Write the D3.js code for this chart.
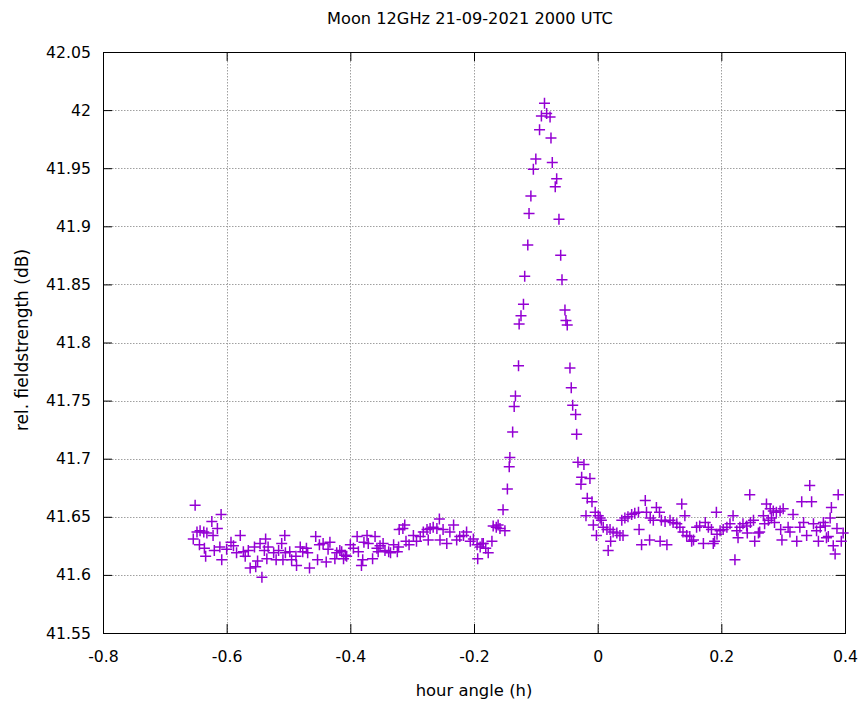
<!doctype html>
<html lang="en">
<head>
  <meta charset="utf-8">
  <title>Moon 12GHz 21-09-2021 2000 UTC</title>
  <style type="text/css">
    body{
      margin:0;
      background:#fff;
    }
    text{
      font-family: "DejaVu Sans", Verdana, sans-serif;
      font-size:16.2px;
      fill:#000;
    }
    .grid line{
      stroke:#a0a0a0;
      stroke-width:1;
      stroke-dasharray:1.5,1.5;
    }
    .axis path{
      display:none;
    }
    .axis line{
      stroke:#000;
    }
    .frame{
      fill:none;
      stroke:#000;
      stroke-width:1;
    }
    .pts path{
      fill:none;
      stroke:#9400d3;
      stroke-width:1.5;
    }
  </style>
</head>
<body>
  <div id="vis"></div>
  <script src="https://cdn.jsdelivr.net/npm/d3@7"></script>
  <script type="text/javascript">

    var width = 861,
      height = 702;

    var margin = {top:52, right:16, bottom:69, left:103};

    var title = 'Moon 12GHz 21-09-2021 2000 UTC',
      xLabel = 'hour angle (h)',
      yLabel = 'rel. fieldstrength (dB)';

    var xTicks = [-0.8,-0.6,-0.4,-0.2,0,0.2,0.4],
      yTicks = [41.55,41.6,41.65,41.7,41.75,41.8,41.85,41.9,41.95,42,42.05];

    // hour angle (h) of each sample
    var hourAngle = [
      -0.654,-0.651,-0.648,-0.644,-0.643,-0.637,-0.636,-0.634,-0.632,-0.624,
      -0.622,-0.620,-0.615,-0.611,-0.609,-0.608,-0.600,-0.593,-0.589,-0.584,
      -0.578,-0.573,-0.570,-0.565,-0.562,-0.555,-0.553,-0.550,-0.546,-0.543,
      -0.539,-0.537,-0.535,-0.533,-0.524,-0.520,-0.516,-0.511,-0.509,-0.506,
      -0.505,-0.498,-0.495,-0.488,-0.487,-0.481,-0.477,-0.471,-0.469,-0.466,
      -0.456,-0.453,-0.450,-0.444,-0.439,-0.436,-0.433,-0.425,-0.422,-0.417,
      -0.414,-0.411,-0.408,-0.406,-0.400,-0.395,-0.389,-0.387,-0.382,-0.380,
      -0.378,-0.373,-0.371,-0.364,-0.360,-0.357,-0.355,-0.352,-0.347,-0.344,
      -0.338,-0.335,-0.330,-0.324,-0.322,-0.321,-0.315,-0.312,-0.310,-0.305,
      -0.298,-0.293,-0.287,-0.282,-0.276,-0.274,-0.271,-0.266,-0.260,-0.256,
      -0.255,-0.250,-0.244,-0.239,-0.233,-0.228,-0.223,-0.217,-0.212,-0.206,
      -0.201,-0.195,-0.194,-0.190,-0.187,-0.185,-0.181,-0.177,-0.171,-0.169,
      -0.164,-0.161,-0.158,-0.153,-0.150,-0.146,-0.143,-0.142,-0.1375,-0.135,
      -0.133,-0.128,-0.127,-0.124,-0.120,-0.118,-0.113,-0.111,-0.108,-0.104,
      -0.100,-0.094,-0.091,-0.086,-0.0825,-0.077,-0.0755,-0.0734,-0.0686,-0.0663,
      -0.0626,-0.0598,-0.0577,-0.0529,-0.0513,-0.0492,-0.0448,-0.0427,-0.0404,-0.0356,
      -0.034,-0.0319,-0.027,-0.0259,-0.0222,-0.0189,-0.0168,-0.0125,-0.0092,-0.007,
      -0.004,-0.002,0.001,0.004,0.006,0.009,0.015,0.017,0.020,0.021,
      0.025,0.031,0.036,0.039,0.041,0.044,0.049,0.055,0.060,0.066,
      0.067,0.071,0.077,0.079,0.084,0.085,0.090,0.095,0.100,0.101,
      0.103,0.109,0.112,0.117,0.122,0.128,0.133,0.136,0.138,0.141,
      0.144,0.149,0.152,0.155,0.160,0.165,0.171,0.174,0.179,0.184,
      0.187,0.189,0.192,0.193,0.198,0.203,0.209,0.214,0.219,0.222,
      0.225,0.227,0.230,0.235,0.241,0.242,0.246,0.247,0.252,0.254,
      0.260,0.262,0.268,0.270,0.273,0.276,0.279,0.281,0.284,0.286,
      0.289,0.295,0.296,0.298,0.300,0.308,0.311,0.316,0.322,0.327,
      0.330,0.333,0.338,0.343,0.346,0.349,0.354,0.357,0.360,0.365,
      0.368,0.370,0.373,0.376,0.378,0.381,0.384,0.387,0.389,0.394,
      0.397
    ];

    // relative field strength (dB)
    var fieldStrength = [
      41.631,41.660,41.637,41.626,41.638,41.637,41.623,41.616,41.636,41.646,
      41.634,41.621,41.640,41.624,41.652,41.613,41.622,41.628,41.625,41.619,
      41.634,41.620,41.616,41.621,41.606,41.624,41.607,41.612,41.627,41.598,
      41.621,41.631,41.614,41.624,41.619,41.613,41.621,41.627,41.613,41.634,
      41.619,41.620,41.613,41.616,41.608,41.624,41.620,41.623,41.619,41.606,
      41.633,41.613,41.626,41.627,41.611,41.622,41.628,41.614,41.619,41.621,
      41.620,41.614,41.617,41.616,41.626,41.623,41.633,41.620,41.608,41.613,
      41.628,41.634,41.627,41.614,41.633,41.623,41.620,41.625,41.627,41.621,
      41.620,41.619,41.626,41.620,41.624,41.639,41.640,41.643,41.629,41.626,
      41.634,41.629,41.633,41.637,41.639,41.630,41.640,41.641,41.640,41.648,
      41.630,41.639,41.627,41.637,41.643,41.630,41.633,41.634,41.637,41.629,
      41.631,41.626,41.614,41.624,41.627,41.627,41.623,41.619,41.629,41.642,
      41.641,41.643,41.640,41.656,41.638,41.674,41.693,41.701,41.723,41.745,
      41.754,41.780,41.816,41.823,41.833,41.857,41.884,41.911,41.926,41.949,
      41.958,41.983,41.995,42.006,41.997,41.994,41.976,41.955,41.934,41.941,
      41.906,41.875,41.854,41.828,41.819,41.815,41.778,41.761,41.746,41.738,
      41.721,41.697,41.678,41.684,41.695,41.651,41.666,41.683,41.663,41.643,
      41.654,41.634,41.651,41.649,41.647,41.641,41.639,41.621,41.639,41.629,
      41.637,41.636,41.634,41.647,41.634,41.649,41.650,41.652,41.653,41.654,
      41.639,41.626,41.664,41.654,41.630,41.649,41.647,41.658,41.654,41.629,
      41.647,41.646,41.626,41.647,41.645,41.644,41.641,41.661,41.637,41.651,
      41.634,41.633,41.629,41.630,41.641,41.642,41.627,41.645,41.641,41.639,
      41.627,41.629,41.654,41.635,41.638,41.639,41.641,41.644,41.651,41.613,
      41.638,41.632,41.641,41.644,41.642,41.636,41.669,41.645,41.647,41.629,
      41.636,41.637,41.651,41.644,41.661,41.647,41.657,41.649,41.655,41.645,
      41.654,41.655,41.639,41.630,41.657,41.641,41.637,41.652,41.629,41.641,
      41.663,41.645,41.634,41.677,41.663,41.644,41.638,41.629,41.641,41.645,
      41.642,41.632,41.633,41.649,41.658,41.625,41.618,41.640,41.669,41.629,
      41.636
    ];

    var data = hourAngle.map(function(h,i){
      return {h:h, v:fieldStrength[i]};
    });

    var svg = d3.select("#vis").append("svg")
      .attr("width", width)
      .attr("height", height);

    var x = d3.scaleLinear()
      .domain([-0.8, 0.4])
      .range([margin.left, width - margin.right]);

    var y = d3.scaleLinear()
      .domain([41.55, 42.05])
      .range([height - margin.bottom, margin.top]);

    // plain hyphen minus, like gnuplot
    var fmt = function(d){ return String(+d.toFixed(2)); };

    // dotted grid
    var grid = svg.append('g').attr('class','grid');
    grid.selectAll('.gx')
      .data(xTicks.slice(1, -1))
      .enter().append('line')
        .attr('x1', function(d){ return Math.round(x(d)) + 0.5; })
        .attr('x2', function(d){ return Math.round(x(d)) + 0.5; })
        .attr('y1', y.range()[1])
        .attr('y2', y.range()[0]);
    grid.selectAll('.gy')
      .data(yTicks.slice(1, -1))
      .enter().append('line')
        .attr('x1', x.range()[0])
        .attr('x2', x.range()[1])
        .attr('y1', function(d){ return Math.round(y(d)) + 0.5; })
        .attr('y2', function(d){ return Math.round(y(d)) + 0.5; });

    // ticks point inwards, mirrored on top and right
    svg.append('g')
      .attr('class','axis')
      .attr('transform','translate(0,' + (height - margin.bottom) + ')')
      .call(d3.axisBottom(x).tickValues(xTicks).tickFormat(fmt).tickSize(-9).tickPadding(18));
    svg.append('g')
      .attr('class','axis')
      .attr('transform','translate(0,' + margin.top + ')')
      .call(d3.axisTop(x).tickValues(xTicks).tickFormat('').tickSize(-9));
    svg.append('g')
      .attr('class','axis')
      .attr('transform','translate(' + margin.left + ',0)')
      .call(d3.axisLeft(y).tickValues(yTicks).tickFormat(fmt).tickSize(-9).tickPadding(12));
    svg.append('g')
      .attr('class','axis')
      .attr('transform','translate(' + (width - margin.right) + ',0)')
      .call(d3.axisRight(y).tickValues(yTicks).tickFormat('').tickSize(-9));

    svg.selectAll('.axis text')
      .style('font-family', '"DejaVu Sans", Verdana, sans-serif')
      .style('font-size', '15.7px');

    svg.append('rect')
      .attr('class','frame')
      .attr('x', x.range()[0] + 0.5)
      .attr('y', y.range()[1] + 0.5)
      .attr('width', x.range()[1] - x.range()[0])
      .attr('height', y.range()[0] - y.range()[1]);

    // '+' markers
    var s = 5.5;
    svg.append('g')
      .attr('class','pts')
      .selectAll('path')
      .data(data)
      .enter().append('path')
        .attr('d', function(d){
          var px = x(d.h), py = y(d.v);
          return 'M' + (px - s) + ',' + py + 'H' + (px + s) +
            'M' + px + ',' + (py - s) + 'V' + (py + s);
        });

    svg.append('text')
      .attr('x', (x.range()[0] + x.range()[1]) / 2 - 4)
      .attr('y', 24)
      .attr('text-anchor','middle')
      .text(title);

    svg.append('text')
      .attr('x', (x.range()[0] + x.range()[1]) / 2)
      .attr('y', 696)
      .attr('text-anchor','middle')
      .style('font-size','16.4px')
      .text(xLabel);

    svg.append('text')
      .attr('transform','translate(28,' + 340 + ') rotate(-90)')
      .attr('text-anchor','middle')
      .style('font-size','17px')
      .text(yLabel);

  </script>
</body>
</html>
